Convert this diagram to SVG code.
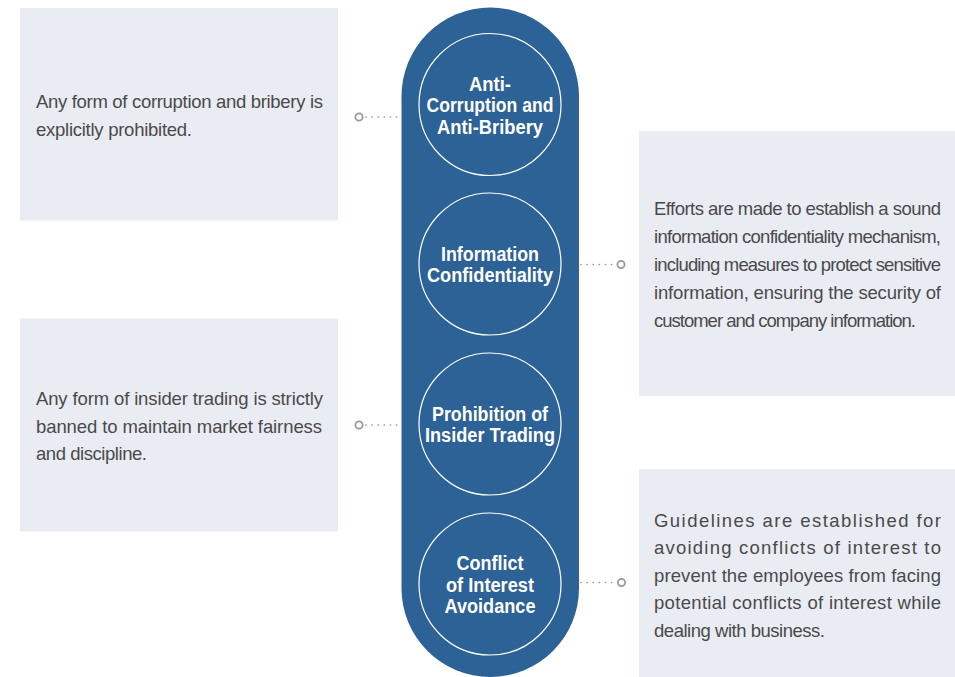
<svg xmlns="http://www.w3.org/2000/svg" width="955" height="677" viewBox="0 0 955 677">
  <style>
    .box { fill: #e9ecf3; }
    .body { font-family: "Liberation Sans", Arial, sans-serif; font-size: 18.5px; fill: #4a4a4a; }
    .title { font-family: "Liberation Sans", Arial, sans-serif; font-size: 20px; font-weight: bold; fill: #ffffff; text-anchor: middle; }
    .ring { fill: none; stroke: #ffffff; stroke-width: 1.2; }
    .dots { stroke: #999999; stroke-width: 1.7; stroke-dasharray: 0.1 6; stroke-linecap: round; fill: none; }
    .end { fill: #ffffff; stroke: #9a9a9a; stroke-width: 1.8; }
  </style>
  <rect width="955" height="677" fill="#ffffff"/>

  <g id="spine">
    <rect x="401.5" y="7.5" width="177.5" height="669.5" rx="88.75" ry="88.75" fill="#2c6295"/>
  </g>

  <g id="desc-anti-corruption">
    <rect class="box" x="20" y="8" width="318" height="212.5"/>
    <text class="body" x="36" y="108" textLength="287" lengthAdjust="spacing">Any form of corruption and bribery is</text>
    <text class="body" x="36" y="136" textLength="156" lengthAdjust="spacing">explicitly prohibited.</text>
  </g>

  <g id="desc-insider-trading">
    <rect class="box" x="20" y="318.5" width="318" height="213"/>
    <text class="body" x="36" y="405" textLength="287" lengthAdjust="spacing">Any form of insider trading is strictly</text>
    <text class="body" x="36" y="432.5" textLength="286" lengthAdjust="spacing">banned to maintain market fairness</text>
    <text class="body" x="36" y="460" textLength="111" lengthAdjust="spacing">and discipline.</text>
  </g>

  <g id="desc-confidentiality">
    <rect class="box" x="639" y="131" width="316" height="265"/>
    <text class="body" x="654" y="214.5" textLength="287" lengthAdjust="spacing">Efforts are made to establish a sound</text>
    <text class="body" x="654" y="242.5" textLength="287" lengthAdjust="spacing">information confidentiality mechanism,</text>
    <text class="body" x="654" y="270.5" textLength="287" lengthAdjust="spacing">including measures to protect sensitive</text>
    <text class="body" x="654" y="298.5" textLength="287" lengthAdjust="spacing">information, ensuring the security of</text>
    <text class="body" x="654" y="326.5" textLength="262" lengthAdjust="spacing">customer and company information.</text>
  </g>

  <g id="desc-conflict">
    <rect class="box" x="639" y="469" width="316" height="208"/>
    <text class="body" x="654" y="526.5" textLength="287" lengthAdjust="spacing">Guidelines are established for</text>
    <text class="body" x="654" y="554" textLength="287" lengthAdjust="spacing">avoiding conflicts of interest to</text>
    <text class="body" x="654" y="581.5" textLength="287" lengthAdjust="spacing">prevent the employees from facing</text>
    <text class="body" x="654" y="609" textLength="287" lengthAdjust="spacing">potential conflicts of interest while</text>
    <text class="body" x="654" y="636.5" textLength="171" lengthAdjust="spacing">dealing with business.</text>
  </g>

  <g id="connectors">
    <line class="dots" x1="366" y1="117" x2="400" y2="117"/>
    <circle class="end" cx="359" cy="117" r="3.6"/>
    <line class="dots" x1="581" y1="264.5" x2="614" y2="264.5"/>
    <circle class="end" cx="621" cy="264.5" r="3.6"/>
    <line class="dots" x1="366" y1="425" x2="400" y2="425"/>
    <circle class="end" cx="359" cy="425" r="3.6"/>
    <line class="dots" x1="581" y1="582.5" x2="614" y2="582.5"/>
    <circle class="end" cx="621.5" cy="582.5" r="3.6"/>
  </g>

  <g id="node-anti-corruption">
    <circle class="ring" cx="490" cy="104.5" r="71"/>
    <text class="title" x="490" y="91" textLength="42" lengthAdjust="spacingAndGlyphs">Anti-</text>
    <text class="title" x="490" y="112" textLength="127" lengthAdjust="spacingAndGlyphs">Corruption and</text>
    <text class="title" x="490" y="133.5" textLength="106" lengthAdjust="spacingAndGlyphs">Anti-Bribery</text>
  </g>

  <g id="node-confidentiality">
    <circle class="ring" cx="490" cy="264" r="71"/>
    <text class="title" x="490" y="261" textLength="98" lengthAdjust="spacingAndGlyphs">Information</text>
    <text class="title" x="490" y="282" textLength="126" lengthAdjust="spacingAndGlyphs">Confidentiality</text>
  </g>

  <g id="node-insider-trading">
    <circle class="ring" cx="490" cy="424" r="71"/>
    <text class="title" x="490" y="421" textLength="116" lengthAdjust="spacingAndGlyphs">Prohibition of</text>
    <text class="title" x="490" y="442" textLength="130" lengthAdjust="spacingAndGlyphs">Insider Trading</text>
  </g>

  <g id="node-conflict">
    <circle class="ring" cx="490" cy="584" r="71"/>
    <text class="title" x="490" y="570" textLength="67" lengthAdjust="spacingAndGlyphs">Conflict</text>
    <text class="title" x="490" y="591.5" textLength="88" lengthAdjust="spacingAndGlyphs">of Interest</text>
    <text class="title" x="490" y="612.5" textLength="91" lengthAdjust="spacingAndGlyphs">Avoidance</text>
  </g>
</svg>
